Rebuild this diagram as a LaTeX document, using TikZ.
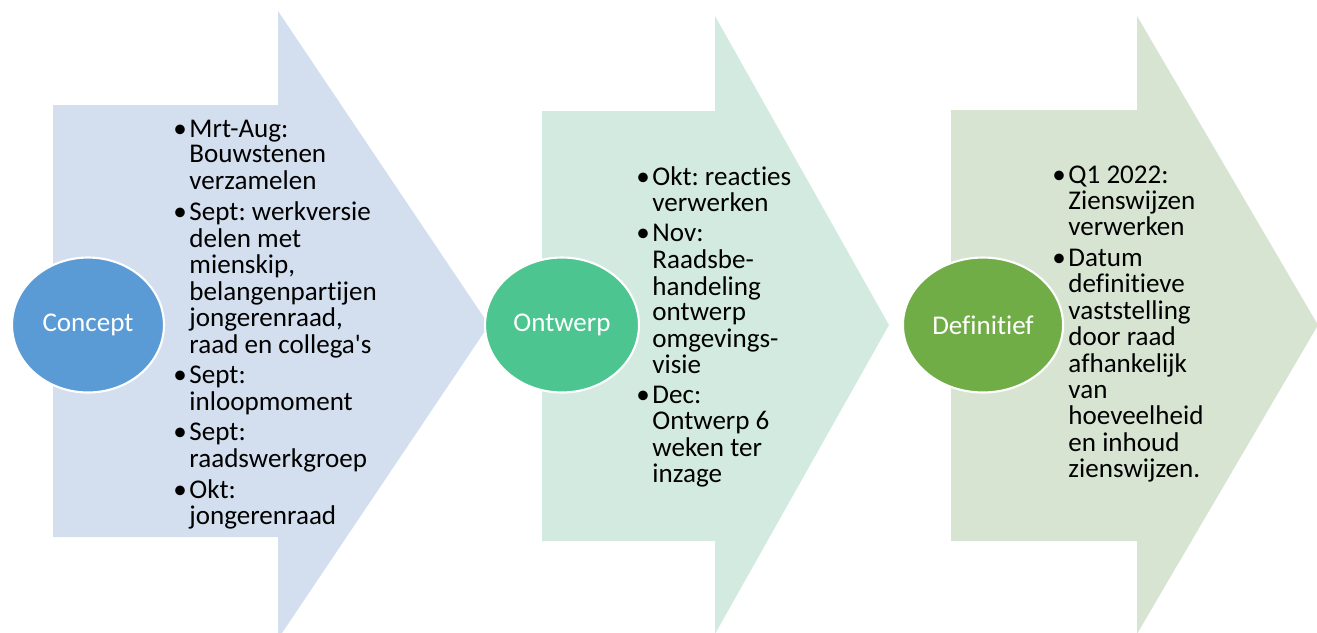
\documentclass[tikz,border=0pt]{standalone}
\usepackage{fontspec}
\setmainfont{Carlito}[Ligatures=NoCommon]
\usepackage{tikz}
\usetikzlibrary{shapes.geometric}
\definecolor{conceptfill}{HTML}{D3DFEE}
\definecolor{ontwerpfill}{HTML}{D3EAE0}
\definecolor{definitieffill}{HTML}{D8E4D2}
\definecolor{conceptdot}{HTML}{5B9BD5}
\definecolor{ontwerpdot}{HTML}{4DC590}
\definecolor{definitiefdot}{HTML}{70AD47}
\newcommand{\itemfont}{\fontsize{15.4}{14.7}\selectfont\frenchspacing}
\newcommand{\gap}{\\[2.6pt]}

\begin{document}
\begin{tikzpicture}[x=0.02cm, y=-0.02cm,
  phase/.style={ellipse, draw=white, line width=1.2pt, minimum width=3.04cm, minimum height=2.7cm,
    text=white, font=\itemfont},
  items/.style={anchor=base west, inner sep=0pt, font=\itemfont}]
\useasboundingbox (0,0) rectangle (1317,632);

  % big arrows
  \fill[conceptfill] (53,105) -- (278,105) -- (278,11) -- (489,325) -- (278,639) -- (278,537) -- (53,537) -- cycle;
  \fill[ontwerpfill] (542,111) -- (715,111) -- (715,16) -- (889,325) -- (715,634) -- (715,541) -- (542,541) -- cycle;
  \fill[definitieffill] (951,110) -- (1137,110) -- (1137,16) -- (1318,325) -- (1137,634) -- (1137,541) -- (951,541) -- cycle;

  % phases
  \node [phase, fill=conceptdot] (concept) at (88,325) {Concept};
  \node [phase, fill=ontwerpdot] (ontwerp) at (562,325) {Ontwerp};
  \node [phase, fill=definitiefdot] (definitief) at (983,325) {Definitief};

  % lists
  \node [items] (conceptlist) at (173,137) {\itemfont\begin{tabular}[t]{@{}l@{\hspace{1.5pt}}l@{}}
    \textbullet & Mrt-Aug:\\ & Bouwstenen\\ & verzamelen\gap
    \textbullet & Sept: werkversie\\ & delen met\\ & mienskip,\\ & belangenpartijen\\ & jongerenraad,\\ & raad en collega\textquotesingle s\gap
    \textbullet & Sept:\\ & inloopmoment\gap
    \textbullet & Sept:\\ & raadswerkgroep\gap
    \textbullet & Okt:\\ & jongerenraad
  \end{tabular}};
  \node [items] (ontwerplist) at (636,185) {\itemfont\begin{tabular}[t]{@{}l@{\hspace{1.5pt}}l@{}}
    \textbullet & Okt: reacties\\ & verwerken\gap
    \textbullet & Nov:\\ & Raadsbe-\\ & handeling\\ & ontwerp\\ & omgevings-\\ & visie\gap
    \textbullet & Dec:\\ & Ontwerp 6\\ & weken ter\\ & inzage
  \end{tabular}};
  \node [items] (definitieflist) at (1052,183) {\itemfont\begin{tabular}[t]{@{}l@{\hspace{1.5pt}}l@{}}
    \textbullet & Q1 2022:\\ & Zienswijzen\\ & verwerken\gap
    \textbullet & Datum\\ & definitieve\\ & vaststelling\\ & door raad\\ & afhankelijk\\ & van\\ & hoeveelheid\\ & en inhoud\\ & zienswijzen.
  \end{tabular}};

\end{tikzpicture}
\end{document}
